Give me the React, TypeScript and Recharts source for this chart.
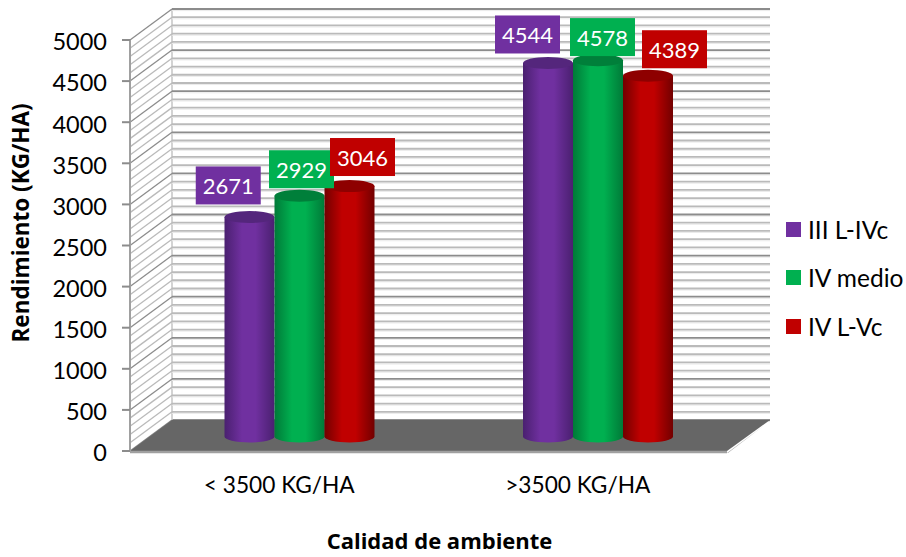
import React from "react";
import { BarChart, Bar, XAxis, YAxis, CartesianGrid, Legend, LabelList } from "recharts";

const categories = ["< 3500 KG/HA", ">3500 KG/HA"];
const seriesNames = ["III L-IVc", "IV medio", "IV L-Vc"];
const serie1 = [2671, 4544];
const serie2 = [2929, 4578];
const serie3 = [3046, 4389];
const yTicks = [0, 500, 1000, 1500, 2000, 2500, 3000, 3500, 4000, 4500, 5000];
const gridValues = [
  0, 100, 200, 300, 400, 500, 600, 700, 800, 900, 1000, 1100, 1200, 1300, 1400, 1500, 1600, 1700,
  1800, 1900, 2000, 2100, 2200, 2300, 2400, 2500, 2600, 2700, 2800, 2900, 3000, 3100, 3200, 3300,
  3400, 3500, 3600, 3700, 3800, 3900, 4000, 4100, 4200, 4300, 4400, 4500, 4600, 4700, 4800, 4900, 5000,
];
const data = categories.map((c, i) => ({ name: c, a: serie1[i], b: serie2[i], c: serie3[i] }));

const FONT = "Lato, Carlito, Calibri, sans-serif";
const TITLE_FONT = "'Open Sans', Lato, sans-serif";
const W = 906, H = 557;
const LEFT = 130, RIGHT = 727, TOP = 40, BOTTOM = 451;
const DX = 42, DY = 31, BX = 20.5, BY = 14.5, RY = 6;
const styles = [
  { id: "p", fill: "#7030A0", edge: "#4A2070", top: "#54267C" },
  { id: "g", fill: "#00B050", edge: "#007A38", top: "#007F3A" },
  { id: "r", fill: "#C00000", edge: "#720000", top: "#8E0000" },
];
const labelShift = [
  [{ x: -0.75, y: -46 }, { x: 0, y: -43 }],
  [{ x: 22.5, y: -41 }, { x: 25, y: -37.6 }],
  [{ x: 33.5, y: -43.6 }, { x: 47, y: -41 }],
];

const Cylinder = (s: number) => (p: any) => {
  const x = p.x + BX, w = p.width, top = p.y - BY, bot = p.y + p.height - BY;
  const st = styles[s];
  return (
    <g>
      <path
        d={`M${x},${top} L${x},${bot} A${w / 2},${RY} 0 0 0 ${x + w},${bot} L${x + w},${top} Z`}
        fill={`url(#cyl-${st.id})`}
      />
      <ellipse cx={x + w / 2} cy={top} rx={w / 2} ry={RY} fill={st.top} />
    </g>
  );
};

const BarLabel = (s: number) => (p: any) => {
  const shift = labelShift[s][p.index];
  const cx = p.x + p.width / 2 + shift.x;
  const cy = p.y + shift.y;
  return (
    <g>
      <rect x={cx - 32.5} y={cy - 19} width={65} height={38} fill={styles[s].fill} />
      <text x={cx} y={cy} textAnchor="middle" dominantBaseline="central" fill="#fff" fontSize={22} fontFamily={FONT}>
        {p.value}
      </text>
    </g>
  );
};

const gridLine = (p: any) => {
  const { x1, x2, y1 } = p;
  const value = Math.round(((BOTTOM - y1) / (BOTTOM - TOP)) * 5000);
  const major = value % 500 === 0;
  const color = major ? "#8C8C8C" : "#BABABA";
  const by = y1 - DY, bl = x1 + DX, br = x2 + 43;
  return (
    <g key={p.key ?? value}>
      <line x1={x1} y1={y1} x2={bl} y2={by} stroke={color} strokeWidth={1.3} />
      <line x1={bl} y1={by + 1.6} x2={br} y2={by + 1.6} stroke="#EAEAEA" strokeWidth={1} />
      <line x1={bl} y1={by} x2={br} y2={by} stroke={color} strokeWidth={1.8} />
      {value === 0 && (
        <>
          <polygon points={`${x1},${y1 + 2} ${x2},${y1 + 2} ${br},${by + 1} ${x2 + 1},${y1 + 2}`} fill="#A6A6A6" />
          <polygon points={`${x1},${y1} ${bl},${by} ${br},${by} ${x2},${y1}`} fill="#666666" />
          <line x1={x1} y1={y1 + 1} x2={x2} y2={y1 + 1} stroke="#A0A0A0" strokeWidth={2.5} />
          <line x1={bl} y1={by} x2={bl} y2={by - (BOTTOM - TOP)} stroke="#C4C4C4" strokeWidth={1.5} />
        </>
      )}
    </g>
  );
};

const LegendContent = (props: any) => (
  <div style={{ fontFamily: FONT, fontSize: 24.5, color: "#000" }}>
    {(props.payload || []).map((e: any, i: number) => (
      <div key={i} style={{ display: "flex", alignItems: "center", height: 48.5 }}>
        <span style={{ width: 15, height: 15, background: e.color, marginRight: 7, display: "inline-block" }} />
        <span style={{ whiteSpace: "nowrap" }}>{e.value}</span>
      </div>
    ))}
  </div>
);

export default function App() {
  return (
    <div style={{ position: "absolute", left: 0, top: 0, width: W, height: H, background: "#fff" }}>
      <BarChart
        width={W}
        height={H}
        data={data}
        margin={{ top: TOP, right: W - RIGHT - 120, bottom: H - BOTTOM - 95, left: LEFT - 100 }}
        barSize={50}
        barGap={0}
      >
        <defs>
          {styles.map((s) => (
            <linearGradient key={s.id} id={`cyl-${s.id}`} x1="0" y1="0" x2="1" y2="0">
              <stop offset="0%" stopColor={s.edge} />
              <stop offset="35%" stopColor={s.fill} />
              <stop offset="62%" stopColor={s.fill} />
              <stop offset="100%" stopColor={s.edge} />
            </linearGradient>
          ))}
        </defs>
        <CartesianGrid horizontal={gridLine} vertical={false} horizontalValues={gridValues} />
        <XAxis
          dataKey="name"
          axisLine={false}
          tickLine={false}
          height={95}
          interval={0}
          tick={{ fontSize: 22.7, fontFamily: FONT, fill: "#000", dy: 18 }}
          label={{ value: "Calidad de ambiente", position: "insideBottom", offset: 0, dx: 11, dy: 3, fontSize: 22, fontWeight: 700, fontFamily: TITLE_FONT, fill: "#000" }}
        />
        <YAxis
          width={100}
          domain={[0, 5000]}
          ticks={yTicks}
          interval={0}
          tickSize={8}
          tickMargin={15}
          axisLine={{ stroke: "#A0A0A0", strokeWidth: 2 }}
          tickLine={{ stroke: "#8C8C8C", strokeWidth: 2 }}
          tick={{ fontSize: 23.5, fontFamily: FONT, fill: "#000", dy: 2 }}
          label={{ value: "Rendimiento (KG/HA)", angle: -90, position: "insideLeft", dx: -14, dy: 97, fontSize: 22.5, fontWeight: 700, fontFamily: TITLE_FONT, fill: "#000" }}
        />
        <Legend
          layout="vertical"
          align="right"
          verticalAlign="middle"
          width={120}
          content={LegendContent}
          itemSorter={null}
          wrapperStyle={{ left: 786, top: 205, width: 120 }}
        />
        {[serie1, serie2, serie3].map((_, s) => (
          <Bar
            key={s}
            dataKey={["a", "b", "c"][s]}
            name={seriesNames[s]}
            fill={styles[s].fill}
            shape={Cylinder(s)}
            isAnimationActive={false}
          >
            <LabelList dataKey={["a", "b", "c"][s]} content={BarLabel(s)} />
          </Bar>
        ))}
      </BarChart>
    </div>
  );
}
